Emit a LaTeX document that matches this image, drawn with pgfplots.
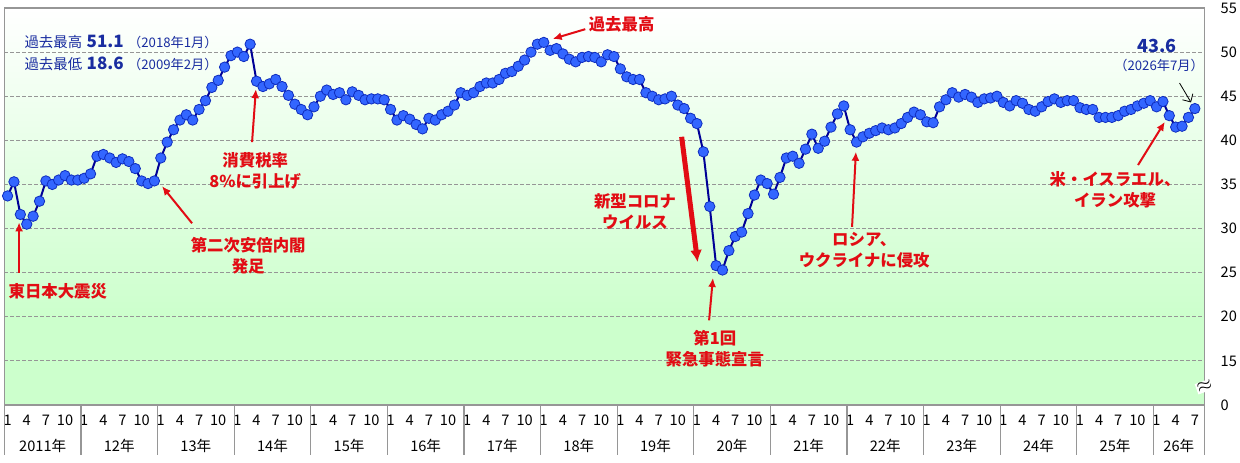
\documentclass[border=0pt]{standalone}
\usepackage{fontspec}
\setmainfont{Noto Sans CJK JP}
\usepackage{pgfplots}
\usepackage{pgfplotstable}
\pgfplotsset{compat=1.18}
\usetikzlibrary{arrows.meta}

\definecolor{linec}{RGB}{0,0,150}
\definecolor{markc}{RGB}{51,102,255}
\definecolor{markd}{RGB}{15,45,190}
\definecolor{annred}{RGB}{226,12,20}
\definecolor{txtblue}{RGB}{25,45,160}
\definecolor{bggreen}{RGB}{204,255,204}
\definecolor{gridc}{RGB}{150,150,150}

% monthly index, 0 = 2011/1 ... 186 = 2026/7
\pgfplotstableread{
m v
0 33.7
1 35.3
2 31.6
3 30.5
4 31.4
5 33.1
6 35.4
7 35.0
8 35.5
9 36.0
10 35.5
11 35.5
12 35.7
13 36.2
14 38.2
15 38.4
16 38.0
17 37.5
18 37.9
19 37.6
20 36.8
21 35.4
22 35.1
23 35.4
24 38.0
25 39.8
26 41.2
27 42.3
28 42.9
29 42.3
30 43.5
31 44.5
32 46.0
33 46.8
34 48.3
35 49.6
36 50.0
37 49.5
38 50.9
39 46.7
40 46.1
41 46.4
42 46.9
43 46.1
44 45.1
45 44.1
46 43.5
47 42.9
48 43.8
49 45.0
50 45.7
51 45.2
52 45.4
53 44.6
54 45.5
55 45.1
56 44.6
57 44.7
58 44.7
59 44.6
60 43.5
61 42.3
62 42.8
63 42.4
64 41.8
65 41.3
66 42.5
67 42.3
68 42.9
69 43.3
70 44.0
71 45.4
72 45.1
73 45.4
74 46.1
75 46.5
76 46.5
77 46.9
78 47.6
79 47.8
80 48.4
81 49.1
82 50.0
83 50.9
84 51.1
85 50.2
86 50.4
87 49.8
88 49.2
89 48.9
90 49.4
91 49.5
92 49.4
93 48.9
94 49.7
95 49.5
96 48.1
97 47.2
98 46.9
99 46.9
100 45.4
101 45.0
102 44.6
103 44.7
104 45.0
105 44.0
106 43.6
107 42.5
108 41.9
109 38.7
110 32.5
111 25.8
112 25.3
113 27.5
114 29.1
115 29.6
116 31.7
117 33.8
118 35.5
119 35.1
120 33.9
121 35.8
122 38.0
123 38.2
124 37.4
125 39.0
126 40.7
127 39.1
128 39.9
129 41.5
130 43.0
131 43.9
132 41.2
133 39.8
134 40.4
135 40.8
136 41.1
137 41.4
138 41.2
139 41.4
140 41.9
141 42.6
142 43.2
143 42.9
144 42.1
145 42.0
146 43.8
147 44.6
148 45.4
149 44.9
150 45.2
151 44.9
152 44.3
153 44.7
154 44.8
155 45.0
156 44.3
157 43.9
158 44.5
159 44.2
160 43.5
161 43.3
162 43.8
163 44.4
164 44.7
165 44.3
166 44.5
167 44.5
168 43.7
169 43.5
170 43.5
171 42.6
172 42.6
173 42.6
174 42.8
175 43.3
176 43.5
177 43.9
178 44.2
179 44.5
180 43.8
181 44.4
182 42.8
183 41.5
184 41.6
185 42.6
186 43.6
}\ciidata

\begin{document}
\begin{tikzpicture}[
  ann/.style={text=annred, font=\fontsize{8.2}{10.5}\selectfont\bfseries, align=center, inner sep=0pt},
  arr/.style={annred, line width=1pt, -{Latex[length=4.5pt,width=4pt]}},
  yr/.style={anchor=base, yshift=-23pt, font=\fontsize{7.3}{8}\selectfont, inner sep=0pt}
]
\begin{axis}[
  set layers,
  at={(0,0)}, anchor=south west,
  scale only axis, width=600pt, height=198.5pt,
  xmin=-0.5, xmax=187.5, ymin=10, ymax=55,
  clip=false,
  axis line style={draw=gridc, line width=0.6pt},
  ytick={10,15,...,55},
  yticklabels={0,15,20,25,30,35,40,45,50,55},
  yticklabel pos=right,
  ytick style={draw=none},
  yticklabel style={anchor=west, xshift=4.6pt},
  ymajorgrids,
  grid style={gridc, dash pattern=on 2pt off 1pt, line width=0.5pt},
  xtick={0,3,...,186},
  xticklabels={1,4,7,10,1,4,7,10,1,4,7,10,1,4,7,10,1,4,7,10,1,4,7,10,1,4,7,10,1,4,7,10,1,4,7,10,1,4,7,10,1,4,7,10,1,4,7,10,1,4,7,10,1,4,7,10,1,4,7,10,1,4,7},
  xtick style={draw=none},
  xticklabel style={anchor=base, yshift=-10pt},
  xtick pos=bottom,
  tick label style={font=\fontsize{7.3}{8}\selectfont},
]
\begin{pgfonlayer}{axis background}
\shade[top color=white, bottom color=bggreen] (axis cs:-0.5,20) rectangle (axis cs:187.5,55);
\fill[bggreen] (axis cs:-0.5,10) rectangle (axis cs:187.5,20.05);
\end{pgfonlayer}

% year separators below the axis
\pgfplotsinvokeforeach{-0.5,11.5,...,179.5,187.5}{
  \draw[gridc, line width=0.6pt] (axis cs:#1,10) -- ++(0pt,-25pt);
}

\addplot[linec, line width=1pt, mark=*, mark size=2.6pt,
  mark options={fill=markc, draw=markd, line width=0.4pt}]
  table[x=m, y=v] {\ciidata};

% year labels
\node[yr] at (axis cs:5.5,10) {2011年};
\node[yr] at (axis cs:17.5,10) {12年};
\node[yr] at (axis cs:29.5,10) {13年};
\node[yr] at (axis cs:41.5,10) {14年};
\node[yr] at (axis cs:53.5,10) {15年};
\node[yr] at (axis cs:65.5,10) {16年};
\node[yr] at (axis cs:77.5,10) {17年};
\node[yr] at (axis cs:89.5,10) {18年};
\node[yr] at (axis cs:101.5,10) {19年};
\node[yr] at (axis cs:113.5,10) {20年};
\node[yr] at (axis cs:125.5,10) {21年};
\node[yr] at (axis cs:137.5,10) {22年};
\node[yr] at (axis cs:149.5,10) {23年};
\node[yr] at (axis cs:161.5,10) {24年};
\node[yr] at (axis cs:173.5,10) {25年};
\node[yr] at (axis cs:183.5,10) {26年};

% axis break mark
\node[fill=white, inner sep=0.3pt, rotate=20, font=\fontsize{10}{10}\selectfont] at (axis cs:187.5,12.1) {$\approx$};

% record high / low
\node[anchor=west, inner sep=0pt, text=txtblue] at (axis cs:2.6,51.2)
  {{\fontsize{7.2}{8}\selectfont 過去最高} {\fontsize{8.5}{9}\selectfont\bfseries 51.1} {\fontsize{6.6}{7}\selectfont （2018年1月）}};
\node[anchor=west, inner sep=0pt, text=txtblue] at (axis cs:2.6,48.7)
  {{\fontsize{7.2}{8}\selectfont 過去最低} {\fontsize{8.5}{9}\selectfont\bfseries 18.6} {\fontsize{6.6}{7}\selectfont （2009年2月）}};

% latest value
\node[inner sep=0pt, text=txtblue, font=\fontsize{9}{9}\selectfont\bfseries] at (axis cs:180.1,50.7) {43.6};
\node[inner sep=0pt, text=txtblue, font=\fontsize{6.6}{7}\selectfont] at (axis cs:180.4,48.5) {（2026年7月）};
\draw[black, line width=0.4pt, -{Straight Barb[length=3pt]}] (axis cs:183.6,46.5) -- (axis cs:185.4,44.3);

% events
\node[ann, anchor=west] at (axis cs:0.1,22.9) {東日本大震災};
\draw[arr] (axis cs:1.8,25.0) -- (axis cs:1.8,30.7);

\node[ann] at (axis cs:37.7,26.9) {第二次安倍内閣\\発足};
\draw[arr] (axis cs:28.9,30.6) -- (axis cs:24.2,34.8);

\node[ann] at (axis cs:38.8,36.5) {消費税率\\8\%に引上げ};
\draw[arr] (axis cs:38.3,39.8) -- (axis cs:38.9,45.8);

\node[ann] at (axis cs:96.2,53.2) {過去最高};
\draw[arr] (axis cs:90.5,52.6) -- (axis cs:85.4,51.5);

\node[ann] at (axis cs:98.3,31.9) {新型コロナ\\ウイルス};
\draw[annred, line width=2.5pt, -{Latex[length=6pt,width=6pt]}] (axis cs:105.6,40.4) -- (axis cs:108.1,26.2);

\node[ann] at (axis cs:110.8,16.4) {第1回\\緊急事態宣言};
\draw[arr] (axis cs:109.9,19.6) -- (axis cs:110.5,24.4);

\node[ann] at (axis cs:134.2,27.6) {ロシア、\\ウクライナに侵攻};
\draw[arr] (axis cs:132.3,30.2) -- (axis cs:132.9,38.7);

\node[ann] at (axis cs:173.5,34.4) {米・イスラエル、\\イラン攻撃};
\draw[arr] (axis cs:177.1,37.2) -- (axis cs:181.3,42.1);
\end{axis}
\pgfresetboundingbox
\path[use as bounding box] (-2.2pt,-28.5pt) rectangle (617.8pt,202.5pt);
\end{tikzpicture}
\end{document}
